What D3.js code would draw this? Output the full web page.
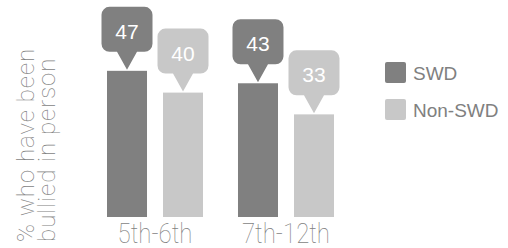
<!DOCTYPE html>
<html>
<head>
<meta charset="utf-8">
<script src="https://cdn.jsdelivr.net/npm/d3@7"></script>
<style>
  body { margin: 0; background: #fff; }
  .thin { font-family: "Roboto", "Lato", sans-serif; font-weight: 100; fill: #7f7f7f; }
  .sans { font-family: "Liberation Sans", Arial, sans-serif; }
</style>
</head>
<body>
<svg id="chart" width="508" height="248"></svg>
<script>
// grade groups and the two student series
const grades = ['5th-6th', '7th-12th'];
const series = ['SWD', 'Non-SWD'];
const swd = [47, 43];
const nonSwd = [40, 33];
const colors = ['#808080', '#c8c8c8'];

const rows = grades.map((g, i) => ({ grade: g, values: [swd[i], nonSwd[i]] }));

const svg = d3.select('#chart');

const x0 = d3.scaleBand().domain(grades).range([107, 334]).paddingInner(0.267);
const x1 = d3.scaleBand().domain(series).range([0, x0.bandwidth()]).paddingInner(0.2857);
const y = d3.scaleLinear().domain([0, 50]).range([217, 61.5]);
const color = d3.scaleOrdinal().domain(series).range(colors);

// y title, two lines rotated
const title = svg.append('text')
    .attr('class', 'thin')
    .attr('transform', 'translate(34,242) rotate(-90)')
    .style('font-size', '24px')
    .style('letter-spacing', '1px');
title.append('tspan').attr('x', 0).attr('y', 0).text('% who have been');
title.append('tspan').attr('x', 0).attr('y', 21).text('bullied in person');

const group = svg.selectAll('g.grp')
    .data(rows)
    .enter().append('g')
    .attr('class', 'grp')
    .attr('transform', d => `translate(${x0(d.grade)},0)`);

const cell = group.selectAll('g.bar')
    .data(d => d.values.map((v, i) => ({ key: series[i], value: v })))
    .enter().append('g')
    .attr('class', 'bar');

cell.append('rect')
    .attr('x', d => x1(d.key))
    .attr('y', d => y(d.value))
    .attr('width', x1.bandwidth())
    .attr('height', d => y(0) - y(d.value))
    .attr('fill', d => color(d.key));

// callout bubble above each bar
function bubble(cx, tip) {
    const w = 51, h = 45, r = 8, pw = 10;
    const top = tip - 63, l = cx - w / 2, rt = cx + w / 2, b = top + h;
    const p = d3.path();
    p.moveTo(l + r, top);
    p.lineTo(rt - r, top);
    p.arcTo(rt, top, rt, top + r, r);
    p.lineTo(rt, b - r);
    p.arcTo(rt, b, rt - r, b, r);
    p.lineTo(cx + pw, b);
    p.lineTo(cx, tip);
    p.lineTo(cx - pw, b);
    p.lineTo(l + r, b);
    p.arcTo(l, b, l, b - r, r);
    p.lineTo(l, top + r);
    p.arcTo(l, top, l + r, top, r);
    p.closePath();
    return p.toString();
}

cell.append('path')
    .attr('d', d => bubble(x1(d.key) + x1.bandwidth() / 2, y(d.value) - 1))
    .attr('fill', d => color(d.key));

cell.append('text')
    .attr('class', 'sans')
    .attr('x', d => x1(d.key) + x1.bandwidth() / 2)
    .attr('y', d => y(d.value) - 32)
    .attr('text-anchor', 'middle')
    .style('font-size', '21px')
    .attr('fill', '#fff')
    .text(d => d.value);

// category labels (narrow, light)
svg.selectAll('text.cat')
    .data(grades)
    .enter().append('text')
    .attr('class', 'cat thin')
    .attr('transform', d => `translate(${x0(d) + x0.bandwidth() / 2},243) scale(0.89,1)`)
    .attr('text-anchor', 'middle')
    .style('font-size', '27px')
    .text(d => d);

// legend
const legend = svg.selectAll('g.leg')
    .data(series)
    .enter().append('g')
    .attr('class', 'leg')
    .attr('transform', (d, i) => `translate(385,${62 + i * 37})`);

legend.append('rect')
    .attr('width', 21).attr('height', 21).attr('rx', 2)
    .attr('fill', d => color(d));

legend.append('text')
    .attr('class', 'sans')
    .attr('x', 28).attr('y', 18)
    .style('font-size', '19px')
    .attr('fill', '#808080')
    .text(d => d);
</script>
</body>
</html>
